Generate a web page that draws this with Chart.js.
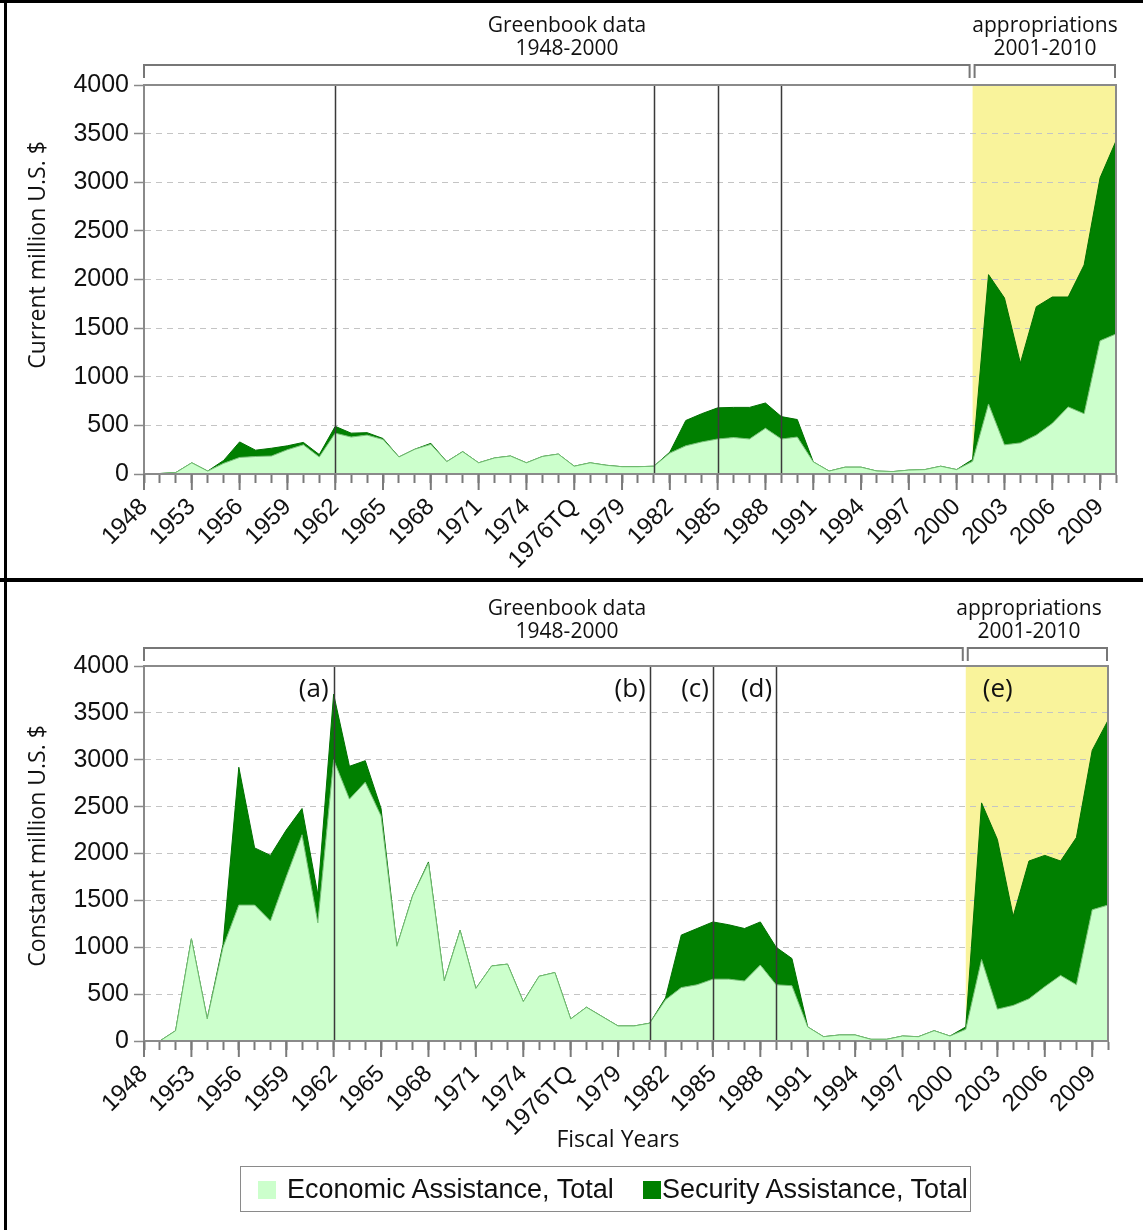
<!DOCTYPE html>
<html>
<head>
<meta charset="utf-8">
<script src="https://cdn.jsdelivr.net/npm/chart.js@4.4.1/dist/chart.umd.min.js"></script>
<style>
  body { margin: 0; background: #fff; width: 1143px; height: 1230px; position: relative; overflow: hidden; }
  .panel { position: absolute; left: 0; width: 1143px; }
  .bar { position: absolute; background: #000; }
  #legend {
    position: absolute; left: 240px; top: 1166px; width: 731px; height: 46px;
    border: 1.5px solid #8a8a8a; box-sizing: border-box;
    font-family: "Liberation Sans", Arial, sans-serif; font-size: 27px; color: #111;
  }
  #legend span { position: absolute; top: 7px; white-space: nowrap; }
  #legend i { position: absolute; top: 14px; width: 18px; height: 18px; }
</style>
</head>
<body>
<div class="panel" style="top:0;height:578px"><canvas id="chart1" width="1143" height="578"></canvas></div>
<div class="panel" style="top:582px;height:648px"><canvas id="chart2" width="1143" height="648"></canvas></div>

<div class="bar" style="left:0;top:0;width:1143px;height:3px"></div>
<div class="bar" style="left:4px;top:0;width:3px;height:1230px"></div>
<div class="bar" style="left:0;top:578px;width:1143px;height:4px"></div>

<div id="legend">
  <i style="left:17px;background:#ccffcc"></i>
  <span style="left:46px">Economic Assistance, Total</span>
  <i style="left:402px;background:#008000"></i>
  <span style="left:421px">Security Assistance, Total</span>
</div>

<script>
// fiscal years on the x axis (the axis skips 1949-1950, the transition quarter sits after 1976)
const categories = ["1948", "1951", "1952", "1953", "1954", "1955", "1956", "1957", "1958", "1959",
  "1960", "1961", "1962", "1963", "1964", "1965", "1966", "1967", "1968", "1969",
  "1970", "1971", "1972", "1973", "1974", "1975", "1976", "1976TQ", "1977", "1978",
  "1979", "1980", "1981", "1982", "1983", "1984", "1985", "1986", "1987", "1988",
  "1989", "1990", "1991", "1992", "1993", "1994", "1995", "1996", "1997", "1998",
  "1999", "2000", "2001", "2002", "2003", "2004", "2005", "2006", "2007", "2008",
  "2009", "2010"];

// current million U.S. $
const econCurrent = [5, 5, 15, 115, 30, 110, 170, 180, 185, 250,
  300, 175, 420, 380, 400, 355, 175, 255, 305, 127,
  230, 115, 165, 185, 115, 180, 205, 80, 115, 90,
  75, 75, 80, 215, 290, 330, 360, 375, 360, 470,
  360, 380, 125, 30, 70, 70, 30, 25, 40, 45,
  80, 45, 130, 720, 300, 320, 400, 520, 690, 620,
  1370, 1440];
const secCurrent = [0, 0, 0, 0, 0, 30, 160, 65, 80, 40,
  25, 25, 70, 40, 25, 10, 0, 0, 10, 0,
  0, 0, 0, 0, 0, 0, 0, 0, 0, 0,
  0, 0, 0, 10, 260, 290, 320, 310, 325, 260,
  230, 180, 0, 0, 0, 0, 0, 0, 0, 0,
  0, 0, 20, 1330, 1510, 820, 1320, 1300, 1130, 1530,
  1675, 1985];

// constant million U.S. $
const econConstant = [0, 0, 110, 1090, 235, 1000, 1450, 1450, 1280, 1750,
  2200, 1260, 3000, 2580, 2760, 2400, 1010, 1550, 1900, 640,
  1180, 560, 800, 820, 420, 690, 730, 235, 360, 260,
  160, 160, 190, 440, 570, 600, 660, 660, 640, 810,
  600, 590, 150, 46, 64, 64, 18, 18, 53, 46,
  110, 53, 125, 870, 340, 380, 450, 580, 700, 600,
  1400, 1450];
const secConstant = [0, 0, 0, 0, 0, 30, 1470, 610, 700, 500,
  280, 300, 700, 350, 230, 80, 0, 0, 10, 0,
  0, 0, 0, 0, 0, 0, 0, 0, 0, 0,
  0, 0, 0, 20, 560, 600, 610, 580, 560, 460,
  400, 290, 0, 0, 0, 0, 0, 0, 0, 0,
  0, 0, 25, 1670, 1810, 950, 1470, 1400, 1220, 1570,
  1700, 1970];

const yTicks = [0, 500, 1000, 1500, 2000, 2500, 3000, 3500, 4000];
const markerYears = ["1962", "1981", "1985", "1989"];
const markerLetters = ["(a)", "(b)", "(c)", "(d)"];
const appropStart = "2001";

const titleFont = '"Open Sans", "Noto Sans", sans-serif';
const tickFont = '"Liberation Sans", Arial, sans-serif';

function overlay(opt) {
  return {
    id: "overlay",
    beforeDraw(chart) {
      const ctx = chart.ctx, a = chart.chartArea, x = chart.scales.x;
      const x0 = x.getPixelForValue(categories.indexOf(appropStart));
      ctx.save();
      ctx.fillStyle = "#f9f39b";
      ctx.fillRect(x0, a.top, a.right - x0, a.bottom - a.top);
      ctx.restore();
    },
    afterDatasetsDraw(chart) {
      const ctx = chart.ctx, a = chart.chartArea, x = chart.scales.x;
      ctx.save();
      ctx.strokeStyle = "#3a3a3a";
      ctx.lineWidth = 1.5;
      markerYears.forEach(function (yr) {
        const px = Math.round(x.getPixelForValue(categories.indexOf(yr))) + 0.5;
        ctx.beginPath();
        ctx.moveTo(px, a.top);
        ctx.lineTo(px, a.bottom);
        ctx.stroke();
      });
      ctx.strokeStyle = "#8a8a8a";
      ctx.lineWidth = 2;
      ctx.strokeRect(a.left, a.top, a.right - a.left, a.bottom - a.top);

      // major ticks every third year
      ctx.strokeStyle = "#7a7a7a";
      for (let i = 0; i < categories.length; i += 3) {
        const px = x.getPixelForValue(i);
        ctx.beginPath();
        ctx.moveTo(px, a.bottom);
        ctx.lineTo(px, a.bottom + 16);
        ctx.stroke();
      }
      ctx.restore();
    },
    afterDraw(chart) {
      const ctx = chart.ctx, a = chart.chartArea, x = chart.scales.x;
      const split = x.getPixelForValue(categories.indexOf(appropStart));
      ctx.save();
      // brackets
      ctx.strokeStyle = "#777";
      ctx.lineWidth = 2;
      [[a.left, split - 3], [split + 2, a.right - 1]].forEach(function (b) {
        ctx.beginPath();
        ctx.moveTo(b[0], opt.bracketY + 13);
        ctx.lineTo(b[0], opt.bracketY);
        ctx.lineTo(b[1], opt.bracketY);
        ctx.lineTo(b[1], opt.bracketY + 13);
        ctx.stroke();
      });

      ctx.fillStyle = "#111";
      ctx.font = "21px " + titleFont;
      ctx.textAlign = "center";
      ctx.textBaseline = "alphabetic";
      ctx.fillText("Greenbook data", opt.greenX, opt.line1);
      ctx.fillText("1948-2000", opt.greenX, opt.line2);
      ctx.fillText("appropriations", opt.appX, opt.line1);
      ctx.fillText("2001-2010", opt.appX, opt.line2);

      // y axis title
      ctx.font = "23px " + titleFont;
      ctx.textBaseline = "middle";
      ctx.save();
      ctx.translate(38, opt.yTitleY);
      ctx.rotate(-Math.PI / 2);
      ctx.fillText(opt.yTitle, 0, 0);
      ctx.restore();

      if (opt.xTitle) {
        ctx.fillText(opt.xTitle, 618, opt.xTitleY);
      }

      if (opt.letters) {
        ctx.font = "26px " + titleFont;
        ctx.textAlign = "right";
        markerYears.forEach(function (yr, k) {
          const px = x.getPixelForValue(categories.indexOf(yr));
          ctx.fillText(markerLetters[k], px - (k === 0 ? 5 : 4), opt.letterY);
        });
        ctx.textAlign = "left";
        ctx.fillText("(e)", split + 17, opt.letterY);
      }
      ctx.restore();
    }
  };
}

function makeChart(id, econ, sec, opt) {
  const ctx = document.getElementById(id).getContext("2d");
  return new Chart(ctx, {
    type: "line",
    data: {
      labels: categories,
      datasets: [
        {
          label: "Economic Assistance, Total",
          data: econ,
          backgroundColor: "#ccffcc",
          borderColor: "#74bd74",
          borderWidth: 1,
          fill: "origin",
          pointRadius: 0,
          tension: 0,
        },
        {
          label: "Security Assistance, Total",
          data: sec,
          backgroundColor: "#008000",
          borderColor: "#007000",
          borderWidth: 1,
          fill: "-1",
          pointRadius: 0,
          tension: 0,
        },
      ],
    },
    options: {
      responsive: false,
      animation: false,
      devicePixelRatio: 1,
      layout: { padding: opt.padding },
      plugins: { legend: { display: false }, tooltip: { enabled: false } },
      scales: {
        x: {
          offset: false,
          grid: { display: true, drawOnChartArea: false, tickLength: 9, tickColor: "#7a7a7a", tickWidth: 2 },
          border: { color: "#8a8a8a", width: 2 },
          ticks: {
            autoSkip: false,
            maxRotation: 45,
            minRotation: 45,
            padding: 10,
            color: "#111",
            font: { family: tickFont, size: 24 },
            callback: function (value, index) {
              return index % 3 === 0 ? categories[index] : "";
            },
          },
          afterFit: function (scale) {
            scale.height = opt.xHeight;
            scale.paddingLeft = 0;
            scale.paddingRight = 0;
          },
        },
        y: {
          stacked: true,
          min: 0,
          max: 4000,
          afterBuildTicks: function (scale) {
            scale.ticks = yTicks.map(function (v) { return { value: v }; });
          },
          grid: {
            color: function (c) {
              return c.tick && (c.tick.value === 0 || c.tick.value === 4000) ? "rgba(0,0,0,0)" : "#c4c4c4";
            },
            lineWidth: 1,
            tickLength: 10,
            tickColor: "#8a8a8a",
            tickWidth: 1.5,
          },
          border: { color: "#8a8a8a", width: 2, dash: [6, 5] },
          ticks: {
            padding: 5,
            color: "#111",
            font: { family: tickFont, size: 25 },
            callback: function (value) { return String(value); },
          },
          afterFit: function (scale) { scale.width = 144; },
        },
      },
    },
    plugins: [overlay(opt)],
  });
}

makeChart("chart1", econCurrent, secCurrent, {
  padding: { top: 85, right: 27, left: 0, bottom: 0 },
  xHeight: 104,
  bracketY: 65,
  line1: 32, line2: 55,
  greenX: 567, appX: 1045,
  yTitle: "Current million U.S. $",
  yTitleY: 255,
});

makeChart("chart2", econConstant, secConstant, {
  padding: { top: 84, right: 35, left: 0, bottom: 78 },
  xHeight: 111,
  bracketY: 66,
  line1: 33, line2: 56,
  greenX: 567, appX: 1029,
  yTitle: "Constant million U.S. $",
  yTitleY: 264,
  xTitle: "Fiscal Years",
  xTitleY: 558,
  letters: true,
  letterY: 108,
});
</script>
</body>
</html>
